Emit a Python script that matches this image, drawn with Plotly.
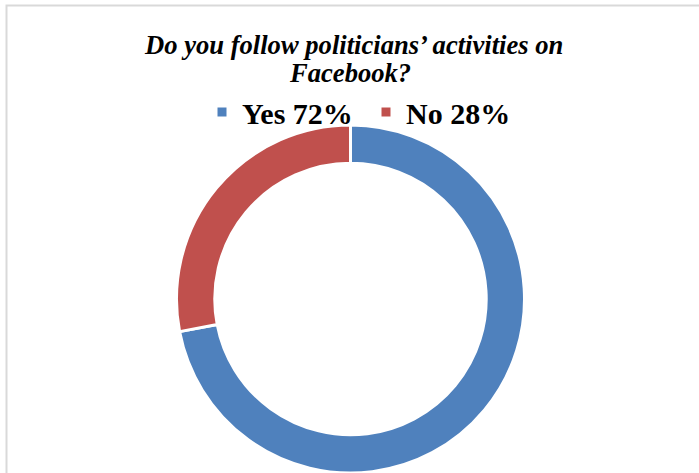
import plotly.graph_objects as go

labels = ["Yes 72%", "No 28%"]
values = [72, 28]
colors = ["#4F81BD", "#C0504D"]
title_line1 = "Do you follow politicians’ activities on"
title_line2 = "Facebook?"

W, H = 699, 473
CX, CY, R = 350.5, 299.5, 174.5  # pixel layout of the donut

fig = go.Figure(go.Pie(
    labels=labels,
    values=values,
    hole=0.78,
    sort=False,
    direction="clockwise",
    rotation=0,
    textinfo="none",
    hoverinfo="label",
    marker=dict(colors=colors, line=dict(color="white", width=3)),
    domain=dict(x=[(CX - R) / W, (CX + R) / W], y=[0, (H - CY + R) / H]),
))

title_font = dict(family="Liberation Serif", size=26.6, color="black")

fig.update_layout(
    width=W, height=H,
    margin=dict(l=0, r=0, t=0, b=0, autoexpand=False),
    paper_bgcolor="white",
    plot_bgcolor="white",
    legend=dict(
        orientation="h",
        xref="container", yref="container",
        x=0.5 + 16.5 / W, xanchor="center",
        y=1 - 112 / H, yanchor="middle",
        font=dict(family="Liberation Serif", size=30, color="black", weight="bold"),
        itemwidth=30,
        entrywidth=119, entrywidthmode="pixels",
        bgcolor="rgba(0,0,0,0)",
        traceorder="normal",
    ),
    annotations=[
        dict(text="<b><i>" + title_line1 + "</i></b>", xref="paper", yref="paper",
             x=0.5 + 4 / W, y=1 - 45 / H, xanchor="center", yanchor="middle",
             showarrow=False, font=title_font),
        dict(text="<b><i>" + title_line2 + "</i></b>", xref="paper", yref="paper",
             x=0.5, y=1 - 73 / H, xanchor="center", yanchor="middle",
             showarrow=False, font=title_font),
    ],
    shapes=[dict(
        type="rect", xref="paper", yref="paper",
        x0=6.5 / W, x1=1.02, y0=-0.02, y1=1 - 5.5 / H,
        line=dict(color="#d9d9d9", width=2),
        fillcolor="rgba(0,0,0,0)",
        layer="below",
    )],
)

fig.write_html("out.html", config={"displayModeBar": False},
               post_script="document.body.style.margin='0';")
